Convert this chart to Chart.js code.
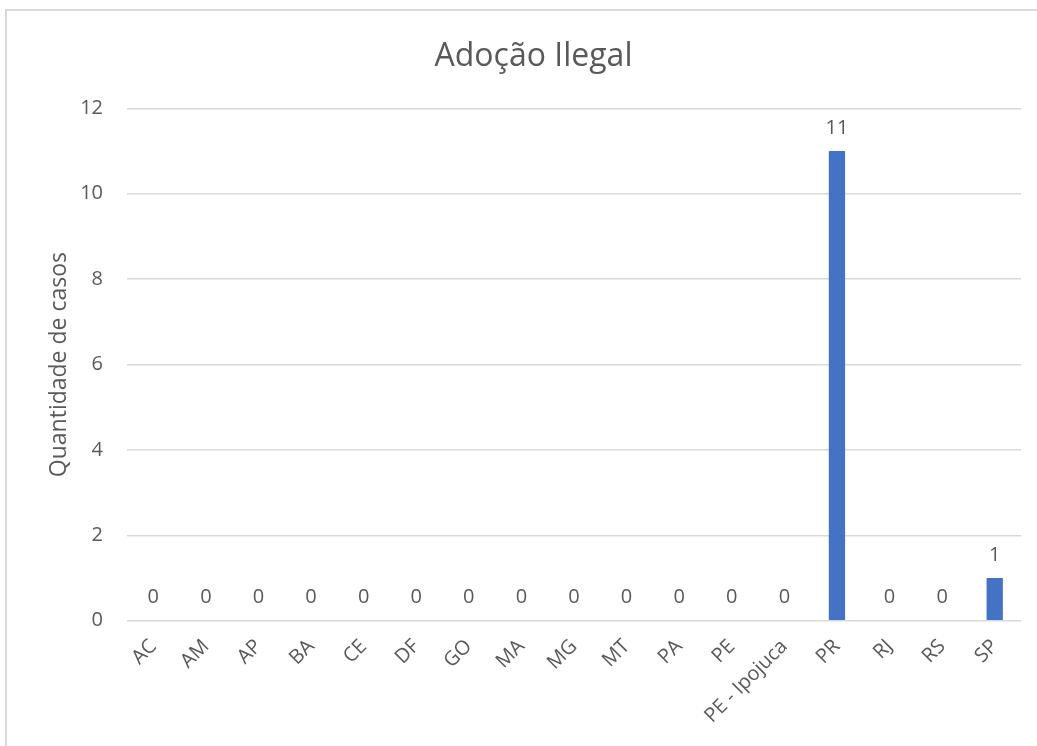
<!DOCTYPE html>
<html>
<head>
<meta charset="utf-8">
<script src="https://cdn.jsdelivr.net/npm/chart.js@4.4.0/dist/chart.umd.min.js"></script>
<style>
  html, body { margin: 0; padding: 0; background: #fff; }
  #wrap { width: 1037px; height: 746px; position: relative; }
</style>
</head>
<body>
<div id="wrap"><canvas id="chart"></canvas></div>
<script>
// Adoção Ilegal - cases by state
const categories = ['AC', 'AM', 'AP', 'BA', 'CE', 'DF', 'GO', 'MA', 'MG', 'MT', 'PA', 'PE', 'PE - Ipojuca', 'PR', 'RJ', 'RS', 'SP'];
const casos = [0, 0, 0, 0, 0, 0, 0, 0, 0, 0, 0, 0, 0, 11, 0, 0, 1];
const yTicks = [0, 2, 4, 6, 8, 10, 12];

const textColor = '#595959';
const fontFamily = '"Open Sans", "Noto Sans", sans-serif';

// draws the value above each bar
const valueLabels = {
    id: 'valueLabels',
    afterDatasetsDraw(chart) {
        const ctx = chart.ctx;
        const meta = chart.getDatasetMeta(0);
        ctx.save();
        ctx.fillStyle = textColor;
        ctx.font = '20px ' + fontFamily;
        ctx.textAlign = 'center';
        ctx.textBaseline = 'bottom';
        meta.data.forEach((bar, i) => {
            ctx.fillText(String(chart.data.datasets[0].data[i]), bar.x, bar.y - 13);
        });
        ctx.restore();
    }
};

// light gray frame, cut off at the right and bottom like the source
const frame = {
    id: 'frame',
    beforeDraw(chart) {
        const ctx = chart.ctx;
        ctx.save();
        ctx.strokeStyle = '#d9d9d9';
        ctx.lineWidth = 2;
        ctx.beginPath();
        ctx.moveTo(6, 760);
        ctx.lineTo(6, 10);
        ctx.lineTo(1040, 10);
        ctx.stroke();
        ctx.restore();
    }
};

try {
    const chartCtx = document.getElementById('chart').getContext('2d');
    new Chart(chartCtx, {
        type: 'bar',
        data: {
            labels: categories,
            datasets: [{
                label: 'Quantidade de casos',
                data: casos,
                backgroundColor: '#4472c4',
                barPercentage: 0.62,
                categoryPercentage: 0.5
            }]
        },
        options: {
            responsive: true,
            maintainAspectRatio: false,
            animation: false,
            layout: {
                padding: { top: 22, right: 16, bottom: 12, left: 46 }
            },
            plugins: {
                legend: { display: false },
                tooltip: { enabled: false },
                title: {
                    display: true,
                    text: 'Adoção Ilegal',
                    color: textColor,
                    font: { family: fontFamily, size: 32, weight: 'normal' },
                    padding: { top: 16, bottom: 32 }
                }
            },
            scales: {
                y: {
                    min: 0,
                    max: 12,
                    afterBuildTicks(axis) {
                        axis.ticks = yTicks.map(v => ({ value: v }));
                    },
                    afterFit(axis) {
                        axis.width = 81;
                    },
                    border: { display: false },
                    grid: { color: '#d9d9d9', lineWidth: 1.5, drawTicks: false },
                    ticks: {
                        color: textColor,
                        font: { family: fontFamily, size: 20 },
                        padding: 24
                    },
                    title: {
                        display: true,
                        text: 'Quantidade de casos',
                        color: textColor,
                        font: { family: fontFamily, size: 23 },
                        padding: { top: 0, bottom: 0 }
                    }
                },
                x: {
                    border: { display: false },
                    grid: { display: false },
                    ticks: {
                        color: textColor,
                        font: { family: fontFamily, size: 20 },
                        maxRotation: 45,
                        minRotation: 45,
                        padding: 6
                    }
                }
            }
        },
        plugins: [valueLabels, frame]
    });
} catch (e) {
    console.warn('Chart error:', e);
}
</script>
</body>
</html>
